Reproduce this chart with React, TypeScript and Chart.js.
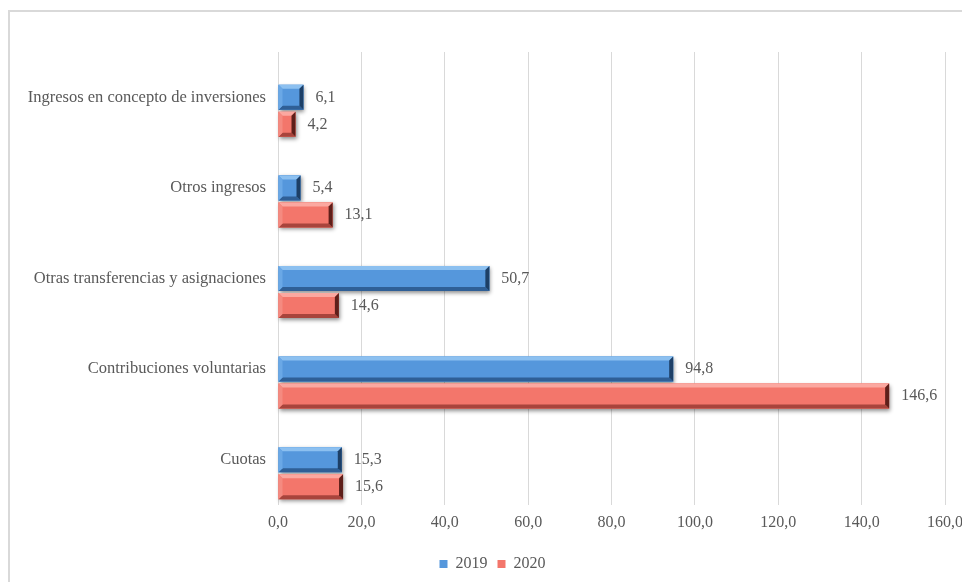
import React, { useEffect, useRef } from "react";
import { Chart, registerables } from "chart.js";

Chart.register(...registerables);

const categories = [
  "Ingresos en concepto de inversiones",
  "Otros ingresos",
  "Otras transferencias y asignaciones",
  "Contribuciones voluntarias",
  "Cuotas",
];
const values2019 = [6.1, 5.4, 50.7, 94.8, 15.3];
const values2020 = [4.2, 13.1, 14.6, 146.6, 15.6];
const seriesLabels = ["2019", "2020"];
const axisMin = 0;
const axisMax = 160;
const axisStep = 20;

const FONT = "'Liberation Serif', 'Times New Roman', serif";
const TEXT = "#595959";
const GRID = "#d9d9d9";

const palettes = [
  { face: "#5597dc", light: "#8cc0f0", dark: "#2f5f96", darkest: "#1d3f66", left: "#6aa8e6" },
  { face: "#f3766b", light: "#fba8a0", dark: "#a8443c", darkest: "#5e1f1a", left: "#f58a80" },
];

const fmt = (v: number) => v.toFixed(1).replace(".", ",");

function poly(ctx: CanvasRenderingContext2D, pts: number[][], color: string) {
  ctx.beginPath();
  ctx.moveTo(pts[0][0], pts[0][1]);
  for (let i = 1; i < pts.length; i++) ctx.lineTo(pts[i][0], pts[i][1]);
  ctx.closePath();
  ctx.fillStyle = color;
  ctx.fill();
}

const framePlugin = {
  id: "frame",
  beforeDraw(chart: any) {
    const ctx = chart.ctx as CanvasRenderingContext2D;
    ctx.save();
    ctx.strokeStyle = GRID;
    ctx.lineWidth = 2;
    ctx.beginPath();
    ctx.moveTo(9, chart.height);
    ctx.lineTo(9, 11);
    ctx.lineTo(chart.width, 11);
    ctx.stroke();
    ctx.restore();
  },
};

const legendShiftPlugin = {
  id: "legendShift",
  afterLayout(chart: any) {
    const lg = chart.legend;
    if (lg) {
      lg.left += 20;
      lg.right += 20;
    }
  },
};

const barGeom = (el: any) => {
  const { x, y, base, height } = el.getProps(["x", "y", "base", "height"], true);
  const l = Math.min(base, x);
  const r = Math.max(base, x);
  const t = y - height / 2;
  const b = y + height / 2;
  return { l, r, t, b };
};

const bevelPlugin = {
  id: "bevel",
  beforeDatasetsDraw(chart: any) {
    const ctx = chart.ctx as CanvasRenderingContext2D;
    ctx.save();
    chart.data.datasets.forEach((ds: any, di: number) => {
      if (di === 0) return;
      const meta = chart.getDatasetMeta(di);
      meta.data.forEach((el: any) => {
        const { l, r, t, b } = barGeom(el);
        ctx.shadowColor = "rgba(0,0,0,0.45)";
        ctx.shadowBlur = 4;
        ctx.shadowOffsetX = 1;
        ctx.shadowOffsetY = 2;
        ctx.fillStyle = palettes[di - 1].face;
        ctx.fillRect(l, t, r - l, b - t);
      });
    });
    ctx.restore();
  },
  afterDatasetsDraw(chart: any) {
    const ctx = chart.ctx as CanvasRenderingContext2D;
    ctx.save();
    chart.data.datasets.forEach((ds: any, di: number) => {
      if (di === 0) return;
      const pal = palettes[di - 1];
      const meta = chart.getDatasetMeta(di);
      meta.data.forEach((el: any, i: number) => {
        const { l, r, t, b } = barGeom(el);
        const d = Math.min(4, (r - l) / 2);
        poly(ctx, [[l, t], [r, t], [r - d, t + d], [l + d, t + d]], pal.light);
        poly(ctx, [[l, b], [r, b], [r - d, b - d], [l + d, b - d]], pal.dark);
        poly(ctx, [[r, t], [r, b], [r - d, b - d], [r - d, t + d]], pal.darkest);
        poly(ctx, [[l, t], [l, b], [l + d, b - d], [l + d, t + d]], pal.left);
        const v = ds.data[i];
        ctx.fillStyle = TEXT;
        ctx.font = `16px ${FONT}`;
        ctx.textAlign = "left";
        ctx.textBaseline = "middle";
        ctx.fillText(fmt(v), r + 12, (t + b) / 2);
      });
    });
    ctx.restore();
  },
};

export default function App() {
  const ref = useRef<HTMLCanvasElement | null>(null);

  useEffect(() => {
    if (!ref.current) return;
    const chart = new Chart(ref.current, {
      type: "bar",
      data: {
        labels: categories,
        datasets: [
          { label: "_spacer", data: categories.map(() => null), backgroundColor: "rgba(0,0,0,0)" },
          { label: seriesLabels[0], data: values2019, backgroundColor: palettes[0].face },
          { label: seriesLabels[1], data: values2020, backgroundColor: palettes[1].face },
        ],
      } as any,
      options: {
        indexAxis: "y",
        responsive: false,
        animation: false,
        events: [],
        categoryPercentage: 0.894,
        barPercentage: 0.926,
        layout: { padding: { top: 52, right: 17, bottom: 0, left: 0 } },
        scales: {
          x: {
            min: axisMin,
            max: axisMax,
            ticks: {
              stepSize: axisStep,
              callback: (v: any) => fmt(Number(v)),
              color: TEXT,
              font: { family: FONT, size: 16 },
              padding: 8,
            },
            grid: { color: GRID, drawTicks: false, lineWidth: 1 },
            border: { display: false },
            afterFit: (scale: any) => {
              scale.height = 41;
              scale.paddingRight = 0;
              scale.paddingLeft = 0;
            },
          },
          y: {
            ticks: {
              color: TEXT,
              font: { family: FONT, size: 16.5 },
              padding: 12,
            },
            grid: { display: false, drawTicks: false },
            border: { display: false },
            afterFit: (scale: any) => {
              scale.width = 278;
            },
          },
        },
        plugins: {
          legend: {
            position: "bottom",
            labels: {
              filter: (item: any) => item.datasetIndex !== 0,
              boxWidth: 8,
              boxHeight: 8,
              color: TEXT,
              font: { family: FONT, size: 16 },
              padding: 10,
            },
          },
          tooltip: { enabled: false },
        },
      } as any,
      plugins: [framePlugin, bevelPlugin, legendShiftPlugin],
    });
    return () => chart.destroy();
  }, []);

  return (
    <div style={{ position: "absolute", left: 0, top: 0, width: 962, height: 582, background: "#fff" }}>
      <canvas ref={ref} width={962} height={582} />
    </div>
  );
}
